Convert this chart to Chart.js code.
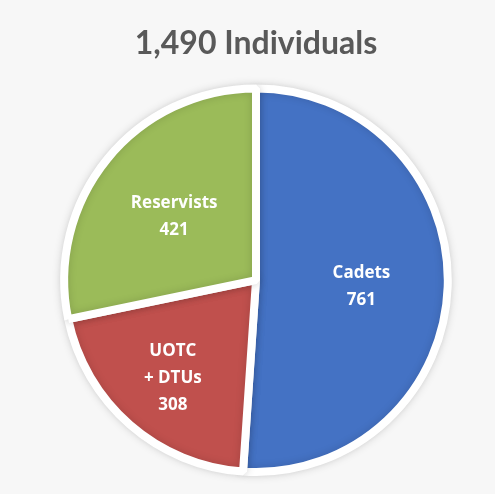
<!DOCTYPE html>
<html>
<head>
<meta charset="utf-8">
<script src="https://cdn.jsdelivr.net/npm/chart.js@4"></script>
<style>
  html, body { margin: 0; padding: 0; background: #f7f7f7; }
  #wrap { width: 495px; height: 494px; }
</style>
</head>
<body>
<div id="wrap"><canvas id="pieCanvas" width="495" height="494"></canvas></div>
<script>
// values
const categories = ['Cadets', 'UOTC + DTUs', 'Reservists'];
const labelLines = [['Cadets', '761'], ['UOTC', '+ DTUs', '308'], ['Reservists', '421']];
const counts = [761, 308, 421];
const sliceColors = ['#4472C4', '#C0504D', '#9BBB59'];
const titleText = '1,490 Individuals';

// where each label sits, as a share of the radius (Excel "best fit" look)
const labelRadius = [0.55, 0.66, 0.55];

const sliceLabels = {
  id: 'sliceLabels',
  afterDatasetsDraw(chart) {
    const { ctx } = chart;
    const meta = chart.getDatasetMeta(0);
    ctx.save();
    ctx.fillStyle = '#ffffff';
    ctx.font = 'bold 17px "Open Sans"';
    ctx.textAlign = 'center';
    ctx.textBaseline = 'middle';
    meta.data.forEach((arc, i) => {
      const p = arc.getProps(['x', 'y', 'startAngle', 'endAngle', 'outerRadius'], true);
      const mid = (p.startAngle + p.endAngle) / 2;
      const r = p.outerRadius * labelRadius[i];
      const cx = p.x + Math.cos(mid) * r;
      const cy = p.y + Math.sin(mid) * r + 3;
      const lines = labelLines[i];
      const lh = 27;
      lines.forEach((t, k) => {
        ctx.fillText(t, cx, cy + (k - (lines.length - 1) / 2) * lh);
      });
    });
    ctx.restore();
  }
};

const pieShadow = {
  id: 'pieShadow',
  beforeDatasetsDraw(chart) {
    const ctx = chart.ctx;
    ctx.save();
    ctx.shadowColor = 'rgba(0,0,0,0.15)';
    ctx.shadowBlur = 8;
  },
  afterDatasetsDraw(chart) {
    chart.ctx.restore();
  }
};

new Chart(document.getElementById('pieCanvas').getContext('2d'), {
  type: 'pie',
  data: {
    labels: categories,
    datasets: [{
      data: counts,
      backgroundColor: sliceColors,
      borderColor: '#ffffff',
      borderWidth: 8,
      hoverOffset: 0
    }]
  },
  options: {
    responsive: false,
    animation: false,
    layout: { padding: { top: 0, bottom: 18, left: 17, right: 0 } },
    plugins: {
      legend: { display: false },
      tooltip: { enabled: false },
      title: {
        display: true,
        text: titleText,
        color: '#595959',
        font: { family: 'Lato', size: 32, weight: 'bold' },
        padding: { top: 24, bottom: 22 }
      }
    }
  },
  plugins: [pieShadow, sliceLabels]
});
</script>
</body>
</html>
